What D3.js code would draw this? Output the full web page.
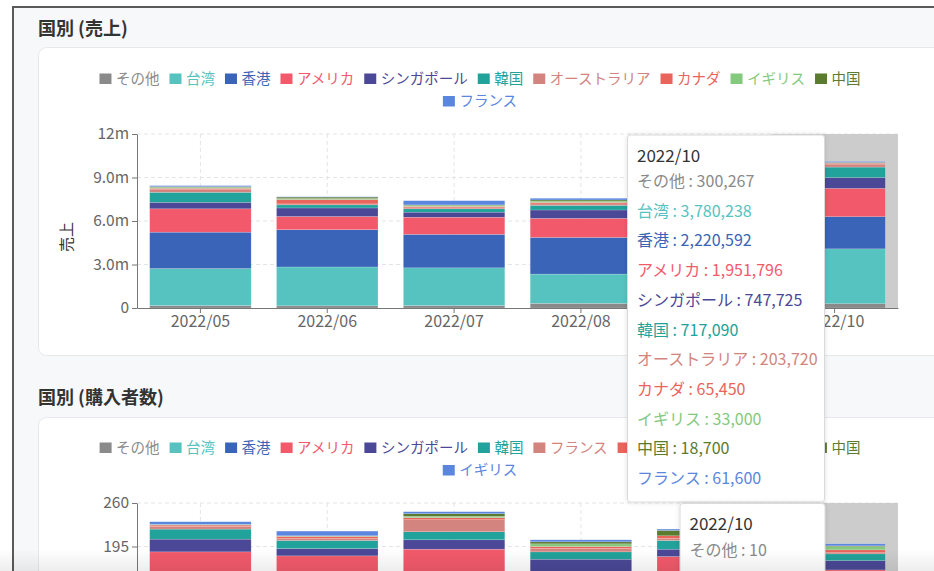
<!DOCTYPE html>
<html><head><meta charset="utf-8">
<script src="https://cdn.jsdelivr.net/npm/d3@7"></script>
<style>
body{margin:0;background:#fff;}
svg{display:block;font-family:"Noto Sans CJK JP","Noto Sans",sans-serif;}
</style>
</head><body>
<svg id="c" width="934" height="571"></svg>
<script>
// ---------- data ----------
const months = ["2022/05","2022/06","2022/07","2022/08","2022/09","2022/10"];
const hoverMonth = "2022/10";

// 国別 (売上)
const salesKeys = ["その他","台湾","香港","アメリカ","シンガポール","韓国","オーストラリア","カナダ","イギリス","中国","フランス"];
const salesOther     = [170000, 150000, 170000, 320000, 260000, 300267];
const salesTaiwan    = [2550000, 2680000, 2600000, 2020000, 2900000, 3780238];
const salesHongKong  = [2510000, 2570000, 2310000, 2530000, 2400000, 2220592];
const salesUSA       = [1610000, 910000, 1180000, 1310000, 1700000, 1951796];
const salesSingapore = [450000, 590000, 350000, 580000, 650000, 747725];
const salesKorea     = [690000, 210000, 230000, 320000, 600000, 717090];
const salesAustralia = [180000, 70000, 70000, 100000, 180000, 203720];
const salesCanada    = [90000, 300000, 90000, 100000, 80000, 65450];
const salesUK        = [70000, 70000, 70000, 90000, 50000, 33000];
const salesChina     = [50000, 100000, 40000, 80000, 30000, 18700];
const salesFrance    = [70000, 20000, 290000, 120000, 70000, 61600];
const salesTickValues = [0, 3000000, 6000000, 9000000, 12000000];
const salesTickLabels = ["0", "3.0m", "6.0m", "9.0m", "12m"];

// 国別 (購入者数)
const buyerKeys = ["その他","台湾","香港","アメリカ","シンガポール","韓国","フランス","カナダ","オーストラリア","中国","イギリス"];
const buyersOther     = [8, 7, 8, 9, 9, 10];
const buyersTaiwan    = [62, 60, 63, 50, 60, 55];
const buyersHongKong  = [44, 42, 45, 38, 42, 40];
const buyersUSA       = [73, 72, 75, 54, 69, 55];
const buyersSingapore = [19, 11, 14, 25, 11, 14];
const buyersKorea     = [15, 12, 12, 11, 13, 10];
const buyersFrance    = [4, 3, 18, 5, 3, 2];
const buyersCanada    = [2, 3, 3, 3, 4, 4];
const buyersAustralia = [1, 1, 2, 4, 0, 5];
const buyersChina     = [0, 0, 4, 3, 8, 1];
const buyersUK        = [4, 7, 3, 3, 2, 3];
const buyerTickValues = [0, 65, 130, 195, 260];
const buyerTickLabels = ["0", "65", "130", "195", "260"];

const palette = ["#8a8a8a","#56c3c1","#3964b8","#f25a6b","#4b4897","#21a29a","#d4847e","#e9645a","#85c97e","#5b7b2f","#5b86e0"];

// ---------- drawing ----------
const W = 934, H = 571;
const svg = d3.select("#c");
const defs = svg.append("defs");
const grad = defs.append("linearGradient").attr("id","shade").attr("x1",0).attr("y1",0).attr("x2",0).attr("y2",1);
grad.append("stop").attr("offset","0%").attr("stop-color","#000").attr("stop-opacity",0);
grad.append("stop").attr("offset","100%").attr("stop-color","#000").attr("stop-opacity",0.07);
const flt = defs.append("filter").attr("id","tipShadow").attr("x","-10%").attr("y","-10%").attr("width","120%").attr("height","120%");
flt.append("feDropShadow").attr("dx",0).attr("dy",0).attr("stdDeviation",2.5).attr("flood-color","#000").attr("flood-opacity",0.12);

// frame
svg.append("rect").attr("x",13).attr("y",7).attr("width",W).attr("height",H).attr("fill","#f7f8fa");
svg.append("line").attr("x1",13).attr("x2",13).attr("y1",6).attr("y2",H).attr("stroke","#5a5a5a").attr("stroke-width",2);
svg.append("line").attr("x1",12).attr("x2",W).attr("y1",7).attr("y2",7).attr("stroke","#5a5a5a").attr("stroke-width",2);

function card(y, h, title, titleY) {
  svg.append("rect").attr("x",38.5).attr("y",y).attr("width",1000).attr("height",h).attr("rx",8)
    .attr("fill","#fff").attr("stroke","#e6e8eb");
  svg.append("text").attr("x",38).attr("y",titleY).attr("fill","#333").style("font-size","18px")
    .style("font-weight","bold").text(title);
}
card(47.5, 308, "国別 (売上)", 35);
card(417.5, 400, "国別 (購入者数)", 404);

function legend(names, colors, cx, y0) {
  const g = svg.append("g");
  const gap = 10, maxW = 800;
  const items = names.map((n, i) => {
    const it = g.append("g");
    it.append("rect").attr("x",0).attr("y",-5).attr("width",12).attr("height",10.5).attr("fill",colors[i]);
    const t = it.append("text").attr("x",16.5).attr("dy","0.35em").attr("fill",colors[i])
      .style("font-size","14.5px").text(n);
    return {it, w: 16.5 + t.node().getComputedTextLength()};
  });
  const rows = []; let cur = [], cw = 0;
  items.forEach(d => {
    const add = (cur.length ? gap : 0) + d.w;
    if (cur.length && cw + add > maxW) { rows.push({items:cur, w:cw}); cur = [d]; cw = d.w; }
    else { cur.push(d); cw += add; }
  });
  if (cur.length) rows.push({items:cur, w:cw});
  rows.forEach((r, ri) => {
    let x = cx - r.w / 2;
    r.items.forEach(d => { d.it.attr("transform", `translate(${x},${y0 + ri * 22.5})`); x += d.w + gap; });
  });
}

function chart(o) {
  const table = months.map((m, i) => {
    const row = {month: m};
    o.keys.forEach((k, j) => row[k] = o.arrays[j][i]);
    return row;
  });
  const stack = d3.stack().keys(o.keys)(table);
  const x = d3.scaleBand().domain(months).range([137, 898]).paddingInner(0.2).paddingOuter(0.1);
  const y = d3.scaleLinear().domain([0, o.ticks[o.ticks.length - 1]]).range([o.bottom, o.top]);
  const g = svg.append("g");
  const cxm = m => x(m) + x.bandwidth() / 2;

  // grid
  g.append("g").selectAll("line").data(o.ticks.slice(1)).join("line")
    .attr("x1",137).attr("x2",898).attr("y1",d=>y(d)).attr("y2",d=>y(d))
    .attr("stroke","#e4e4e4").attr("stroke-dasharray","4,3");
  g.append("g").selectAll("line").data(months).join("line")
    .attr("x1",cxm).attr("x2",cxm).attr("y1",o.top).attr("y2",o.bottom)
    .attr("stroke","#e4e4e4").attr("stroke-dasharray","4,3");

  // hover band
  g.append("rect").attr("x", cxm(hoverMonth) - x.step() / 2).attr("width", x.step())
    .attr("y", o.top).attr("height", o.bottom - o.top).attr("fill","#cccccc");

  // bars
  g.append("g").selectAll("g").data(stack).join("g").attr("fill",(d,i)=>o.colors[i])
    .selectAll("rect").data(d=>d).join("rect")
    .attr("x",d=>x(d.data.month)).attr("width",x.bandwidth())
    .attr("y",d=>y(d[1])).attr("height",d=>Math.max(0, y(d[0]) - y(d[1])))
    .attr("stroke","#fff").attr("stroke-opacity",0.35).attr("stroke-width",0.5);

  // axes
  const ya = g.append("g").attr("transform","translate(137,0)")
    .call(d3.axisLeft(y).tickValues(o.ticks).tickFormat((d,i)=>o.tickLabels[i]).tickSize(5).tickSizeOuter(0).tickPadding(3));
  const xa = g.append("g").attr("transform",`translate(0,${o.bottom})`)
    .call(d3.axisBottom(x).tickSize(5).tickSizeOuter(0).tickPadding(3));
  [ya, xa].forEach(a => {
    a.select(".domain").attr("stroke","#777");
    a.selectAll(".tick line").attr("stroke","#777");
    a.selectAll("text").attr("fill","#666").style("font-size","15.5px").style("font-family","'Noto Sans CJK JP','Noto Sans',sans-serif");
  });
  xa.selectAll("text").style("font-size","16px");
  g.append("text").attr("transform",`translate(72,${o.top + 103}) rotate(-90)`).attr("text-anchor","middle")
    .attr("fill","#333").style("font-size","15px").text(o.yTitle);
}

legend(salesKeys, palette, 480, 78.5);
chart({keys: salesKeys,
  arrays: [salesOther, salesTaiwan, salesHongKong, salesUSA, salesSingapore, salesKorea, salesAustralia, salesCanada, salesUK, salesChina, salesFrance],
  colors: palette, ticks: salesTickValues, tickLabels: salesTickLabels, top: 134, bottom: 308, yTitle: "売上"});

legend(buyerKeys, palette, 480, 447.5);
chart({keys: buyerKeys,
  arrays: [buyersOther, buyersTaiwan, buyersHongKong, buyersUSA, buyersSingapore, buyersKorea, buyersFrance, buyersCanada, buyersAustralia, buyersChina, buyersUK],
  colors: palette, ticks: buyerTickValues, tickLabels: buyerTickLabels, top: 503, bottom: 677, yTitle: "購入者数"});

// tooltips
const fmt = d3.format(",");
function tooltip(left, top, w, h, keys, arrays) {
  const idx = months.indexOf(hoverMonth);
  const g = svg.append("g");
  g.append("rect").attr("x",left + 0.5).attr("y",top + 0.5).attr("width",w).attr("height",h).attr("rx",3)
    .attr("fill","#fff").attr("stroke","#dadada").attr("filter","url(#tipShadow)");
  g.append("text").attr("x",left + 10).attr("y",top + 27).attr("fill","#333").style("font-size","17px").text(hoverMonth);
  const rows = keys.map((k, i) => ({k, i, y: top + 52.5 + i * 29.7})).filter(r => r.y < H + 4);
  g.selectAll("text.row").data(rows).join("text").attr("class","row")
    .attr("x",left + 10).attr("y",d=>d.y)
    .attr("fill",d=>palette[d.i]).style("font-size","16px")
    .text(d=>`${d.k} : ${fmt(arrays[d.i][idx])}`);
}
tooltip(627, 134.5, 197, 367, salesKeys,
  [salesOther, salesTaiwan, salesHongKong, salesUSA, salesSingapore, salesKorea, salesAustralia, salesCanada, salesUK, salesChina, salesFrance]);
tooltip(679.5, 503, 145, 367, buyerKeys,
  [buyersOther, buyersTaiwan, buyersHongKong, buyersUSA, buyersSingapore, buyersKorea, buyersFrance, buyersCanada, buyersAustralia, buyersChina, buyersUK]);

// bottom fade
svg.append("rect").attr("x",0).attr("y",549).attr("width",W).attr("height",22).attr("fill","url(#shade)");
</script>
</body></html>
